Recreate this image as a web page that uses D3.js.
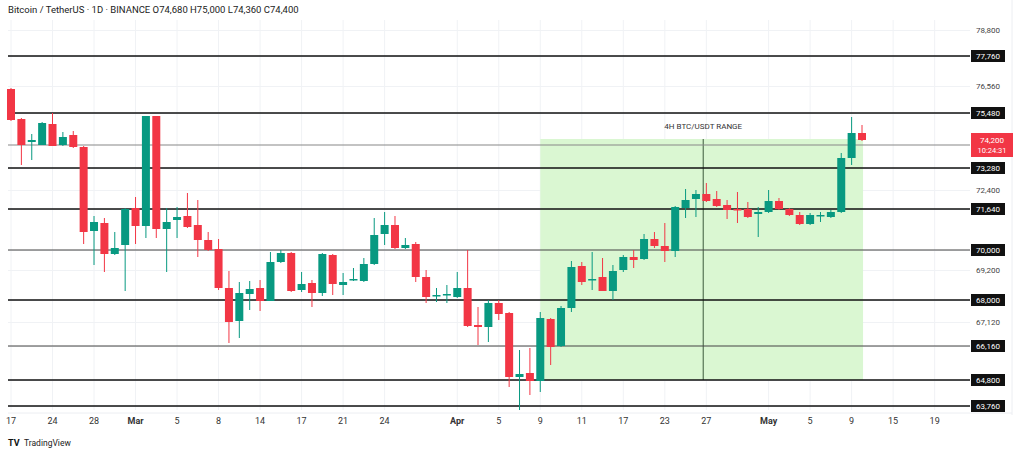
<!DOCTYPE html>
<html>
<head>
<meta charset="utf-8">
<script src="https://cdn.jsdelivr.net/npm/d3@7"></script>
<style>
  body { margin: 0; background: #fff; font-family: Roboto, "Noto Sans", sans-serif; }
  svg text { font-family: Roboto, "Noto Sans", sans-serif; }
</style>
</head>
<body>
<svg id="chart" width="1024" height="456"></svg>
<script>
// daily candles, BTC/USDT
var opens  = [76440,75240,74320,74200,75040,74200,74600,74120,70760,71080,69840,70200,71680,70960,75360,70840,71200,71360,71000,70400,70040,68480,67160,68240,68480,67960,69520,69880,68400,68680,68280,69800,68600,68800,68760,69440,70640,71000,70080,70240,68920,68160,68200,68120,68480,67000,66920,67880,67480,64920,65080,64760,67240,66160,67680,69360,68800,68920,68360,69200,69720,69640,70440,70160,69960,71680,72040,72240,72040,71800,71640,71640,71440,71520,71960,71640,71400,71040,71360,71320,71520,73680,74680];
var closes = [75200,74200,74400,75080,74160,74520,74120,70720,71120,69840,70080,71640,70960,75360,70840,71120,71320,70920,70400,70000,68480,67120,68280,68440,67960,69520,69880,68360,68640,68280,69840,68640,68720,68840,69440,70600,71000,70080,70200,68920,68120,68200,68240,68480,66960,66920,67880,67440,64920,65040,64760,67280,66120,67680,69320,68720,68840,68360,69160,69720,69600,70440,70160,69960,71720,72000,72240,71960,71760,71600,71600,71320,71520,71960,71640,71400,71040,71400,71400,71520,73680,74680,74400];
var highs  = [76480,75280,74640,75120,75480,74720,74760,74160,71360,71280,70720,71680,72120,75360,75360,71680,71720,72280,72000,70720,70440,69160,68720,68760,68800,69920,70000,69920,69120,68800,69880,69840,69080,69280,69680,71280,71520,71360,70480,70320,69200,68480,68600,69120,70000,67720,68000,68000,67520,66000,66080,67520,67280,67760,69560,69520,69920,69680,69400,69800,70000,70640,70720,71080,71760,72440,72400,72680,72360,72000,72320,71920,71720,72400,72080,71680,71520,71480,71520,71600,73880,75320,75000];
var lows   = [75160,73400,73600,74200,74160,74160,74080,70240,69400,69120,69800,68360,70240,70480,70480,69120,70480,70880,69720,69960,68400,66280,66480,67600,67560,67960,69480,68320,68320,67720,68160,68200,68200,68760,68720,69400,70200,70040,70040,68720,67880,67920,67880,68080,66920,66200,66320,67200,64520,63600,64200,64320,65400,66120,67520,68600,68400,68360,68000,69120,69280,69600,70080,69520,69720,71280,71320,71920,71720,71240,71080,71280,70520,71480,71600,71360,71000,71000,71120,71280,71480,73400,74360];

// date labels shown under candle index
var tickIndex  = [0,4,8,12,16,20,24,28,32,36,43,47,51,55,59,63,67,73,77,81,85,89];
var tickLabels = ['17','24','28','Mar','5','8','14','17','21','24','Apr','5','9','11','17','23','27','May','5','9','15','19'];

// horizontal support / resistance levels
var levels      = [77760,75480,73280,71640,70000,68000,66160,64800,63760];
var levelWeight = [1.6,1.6,1.6,1.4,1.1,1.6,1.1,1.6,1.6];
var axisTicks   = [78800,76560,72400,69200,67120];
var lastPrice   = 74200;
var zoneFrom = 51, zoneTo = 82.1, zoneTop = 74440, zoneBottom = 64800, zoneMid = 66.7;

var svg = d3.select('#chart');
var x = d3.scaleLinear().domain([0, 82]).range([11, 862]);
var y = d3.scaleLinear().domain([61760, 80000]).range([456, 0]);
var plotL = 8, plotR = 970, plotT = 20, plotB = 410;

var candles = opens.map(function(o, i){
    return {i: i, o: o, c: closes[i], h: highs[i], l: lows[i]};
});

// grid
var grid = svg.append('g');
grid.selectAll('line.v').data(tickIndex).enter().append('line')
    .attr('x1', function(d){ return x(d); }).attr('x2', function(d){ return x(d); })
    .attr('y1', plotT).attr('y2', plotB).attr('stroke', '#f0f2f5');
grid.selectAll('line.h').data(axisTicks.concat(levels)).enter().append('line')
    .attr('x1', plotL).attr('x2', plotR)
    .attr('y1', function(d){ return y(d) + 0.5; }).attr('y2', function(d){ return y(d) + 0.5; })
    .attr('stroke', '#f0f2f5');
svg.append('line').attr('x1', plotR + 42).attr('x2', plotR + 42).attr('y1', 0).attr('y2', 415).attr('stroke', '#eceef2');
svg.append('line').attr('x1', plotL).attr('x2', plotR + 42).attr('y1', plotB + 3).attr('y2', plotB + 3).attr('stroke', '#eceef2');

// green zone
svg.append('rect')
    .attr('x', x(zoneFrom)).attr('y', y(zoneTop))
    .attr('width', x(zoneTo) - x(zoneFrom)).attr('height', y(zoneBottom) - y(zoneTop))
    .attr('fill', '#d8f7d0').attr('opacity', 0.95);
svg.append('line')
    .attr('x1', x(zoneMid)).attr('x2', x(zoneMid)).attr('y1', y(zoneTop)).attr('y2', y(zoneBottom))
    .attr('stroke', '#3c5a3c').attr('stroke-width', 1);
svg.append('text').attr('x', x(zoneMid)).attr('y', y(zoneTop) - 10)
    .attr('text-anchor', 'middle').attr('font-size', 8).attr('fill', '#333')
    .text('4H  BTC/USDT  RANGE');

// current price line
svg.append('line').attr('x1', plotL).attr('x2', plotR)
    .attr('y1', y(lastPrice)).attr('y2', y(lastPrice))
    .attr('stroke', '#888').attr('stroke-width', 1.2);

// levels
svg.selectAll('line.level').data(levels).enter().append('line')
    .attr('x1', plotL).attr('x2', plotR)
    .attr('y1', function(d){ return y(d); }).attr('y2', function(d){ return y(d); })
    .attr('stroke', function(d, i){ return levelWeight[i] > 1.3 ? '#111' : '#444'; })
    .attr('stroke-width', function(d, i){ return levelWeight[i]; });

// candles
var up = '#089981', down = '#f23645';
var g = svg.append('g');
g.selectAll('line.wick').data(candles).enter().append('line')
    .attr('x1', function(d){ return x(d.i); }).attr('x2', function(d){ return x(d.i); })
    .attr('y1', function(d){ return y(d.h); }).attr('y2', function(d){ return y(d.l); })
    .attr('stroke', function(d){ return d.c >= d.o ? up : down; }).attr('stroke-width', 1);
g.selectAll('rect.body').data(candles).enter().append('rect')
    .attr('x', function(d){ return x(d.i) - 4; }).attr('width', 8)
    .attr('y', function(d){ return y(Math.max(d.o, d.c)); })
    .attr('height', function(d){ return Math.max(1.5, Math.abs(y(d.o) - y(d.c))); })
    .attr('fill', function(d){ return d.c >= d.o ? up : down; });

// x labels
svg.selectAll('text.xt').data(tickIndex).enter().append('text')
    .attr('x', function(d){ return x(d); }).attr('y', 424)
    .attr('text-anchor', 'middle').attr('font-size', 9)
    .attr('font-weight', function(d, i){ return isNaN(+tickLabels[i]) ? 'bold' : 'normal'; })
    .attr('fill', '#333')
    .text(function(d, i){ return tickLabels[i]; });

// right axis
var fmt = d3.format(',');
svg.selectAll('text.yt').data(axisTicks).enter().append('text')
    .attr('x', 988).attr('y', function(d){ return y(d) + 3; })
    .attr('text-anchor', 'middle').attr('font-size', 8).attr('fill', '#444')
    .text(function(d){ return fmt(d); });
var tags = svg.selectAll('g.tag').data(levels).enter().append('g')
    .attr('transform', function(d){ return 'translate(971,' + y(d) + ')'; });
tags.append('rect').attr('x', 0).attr('y', -6).attr('width', 34).attr('height', 12).attr('fill', '#111');
tags.append('text').attr('x', 17).attr('y', 3).attr('text-anchor', 'middle')
    .attr('font-size', 8).attr('fill', '#fff').text(function(d){ return fmt(d); });

var cur = svg.append('g').attr('transform', 'translate(971,' + y(lastPrice) + ')');
cur.append('rect').attr('x', 0).attr('y', -12).attr('width', 42).attr('height', 24).attr('fill', '#f23645');
cur.append('text').attr('x', 21).attr('y', -2).attr('text-anchor', 'middle').attr('font-size', 8).attr('fill', '#fff').text(fmt(lastPrice));
cur.append('text').attr('x', 21).attr('y', 8).attr('text-anchor', 'middle').attr('font-size', 7.5).attr('fill', '#fff').text('10:24:31');

// title + logo
svg.append('text').attr('x', 8).attr('y', 13).attr('font-size', 9.5).attr('fill', '#222')
    .text('Bitcoin / TetherUS · 1D · BINANCE   O74,680 H75,000 L74,360 C74,400');
svg.append('text').attr('x', 8).attr('y', 446).attr('font-size', 9).attr('font-weight', 'bold').attr('fill', '#111').text('TV');
svg.append('text').attr('x', 24).attr('y', 446).attr('font-size', 8.5).attr('fill', '#222').text('TradingView');
</script>
</body>
</html>
